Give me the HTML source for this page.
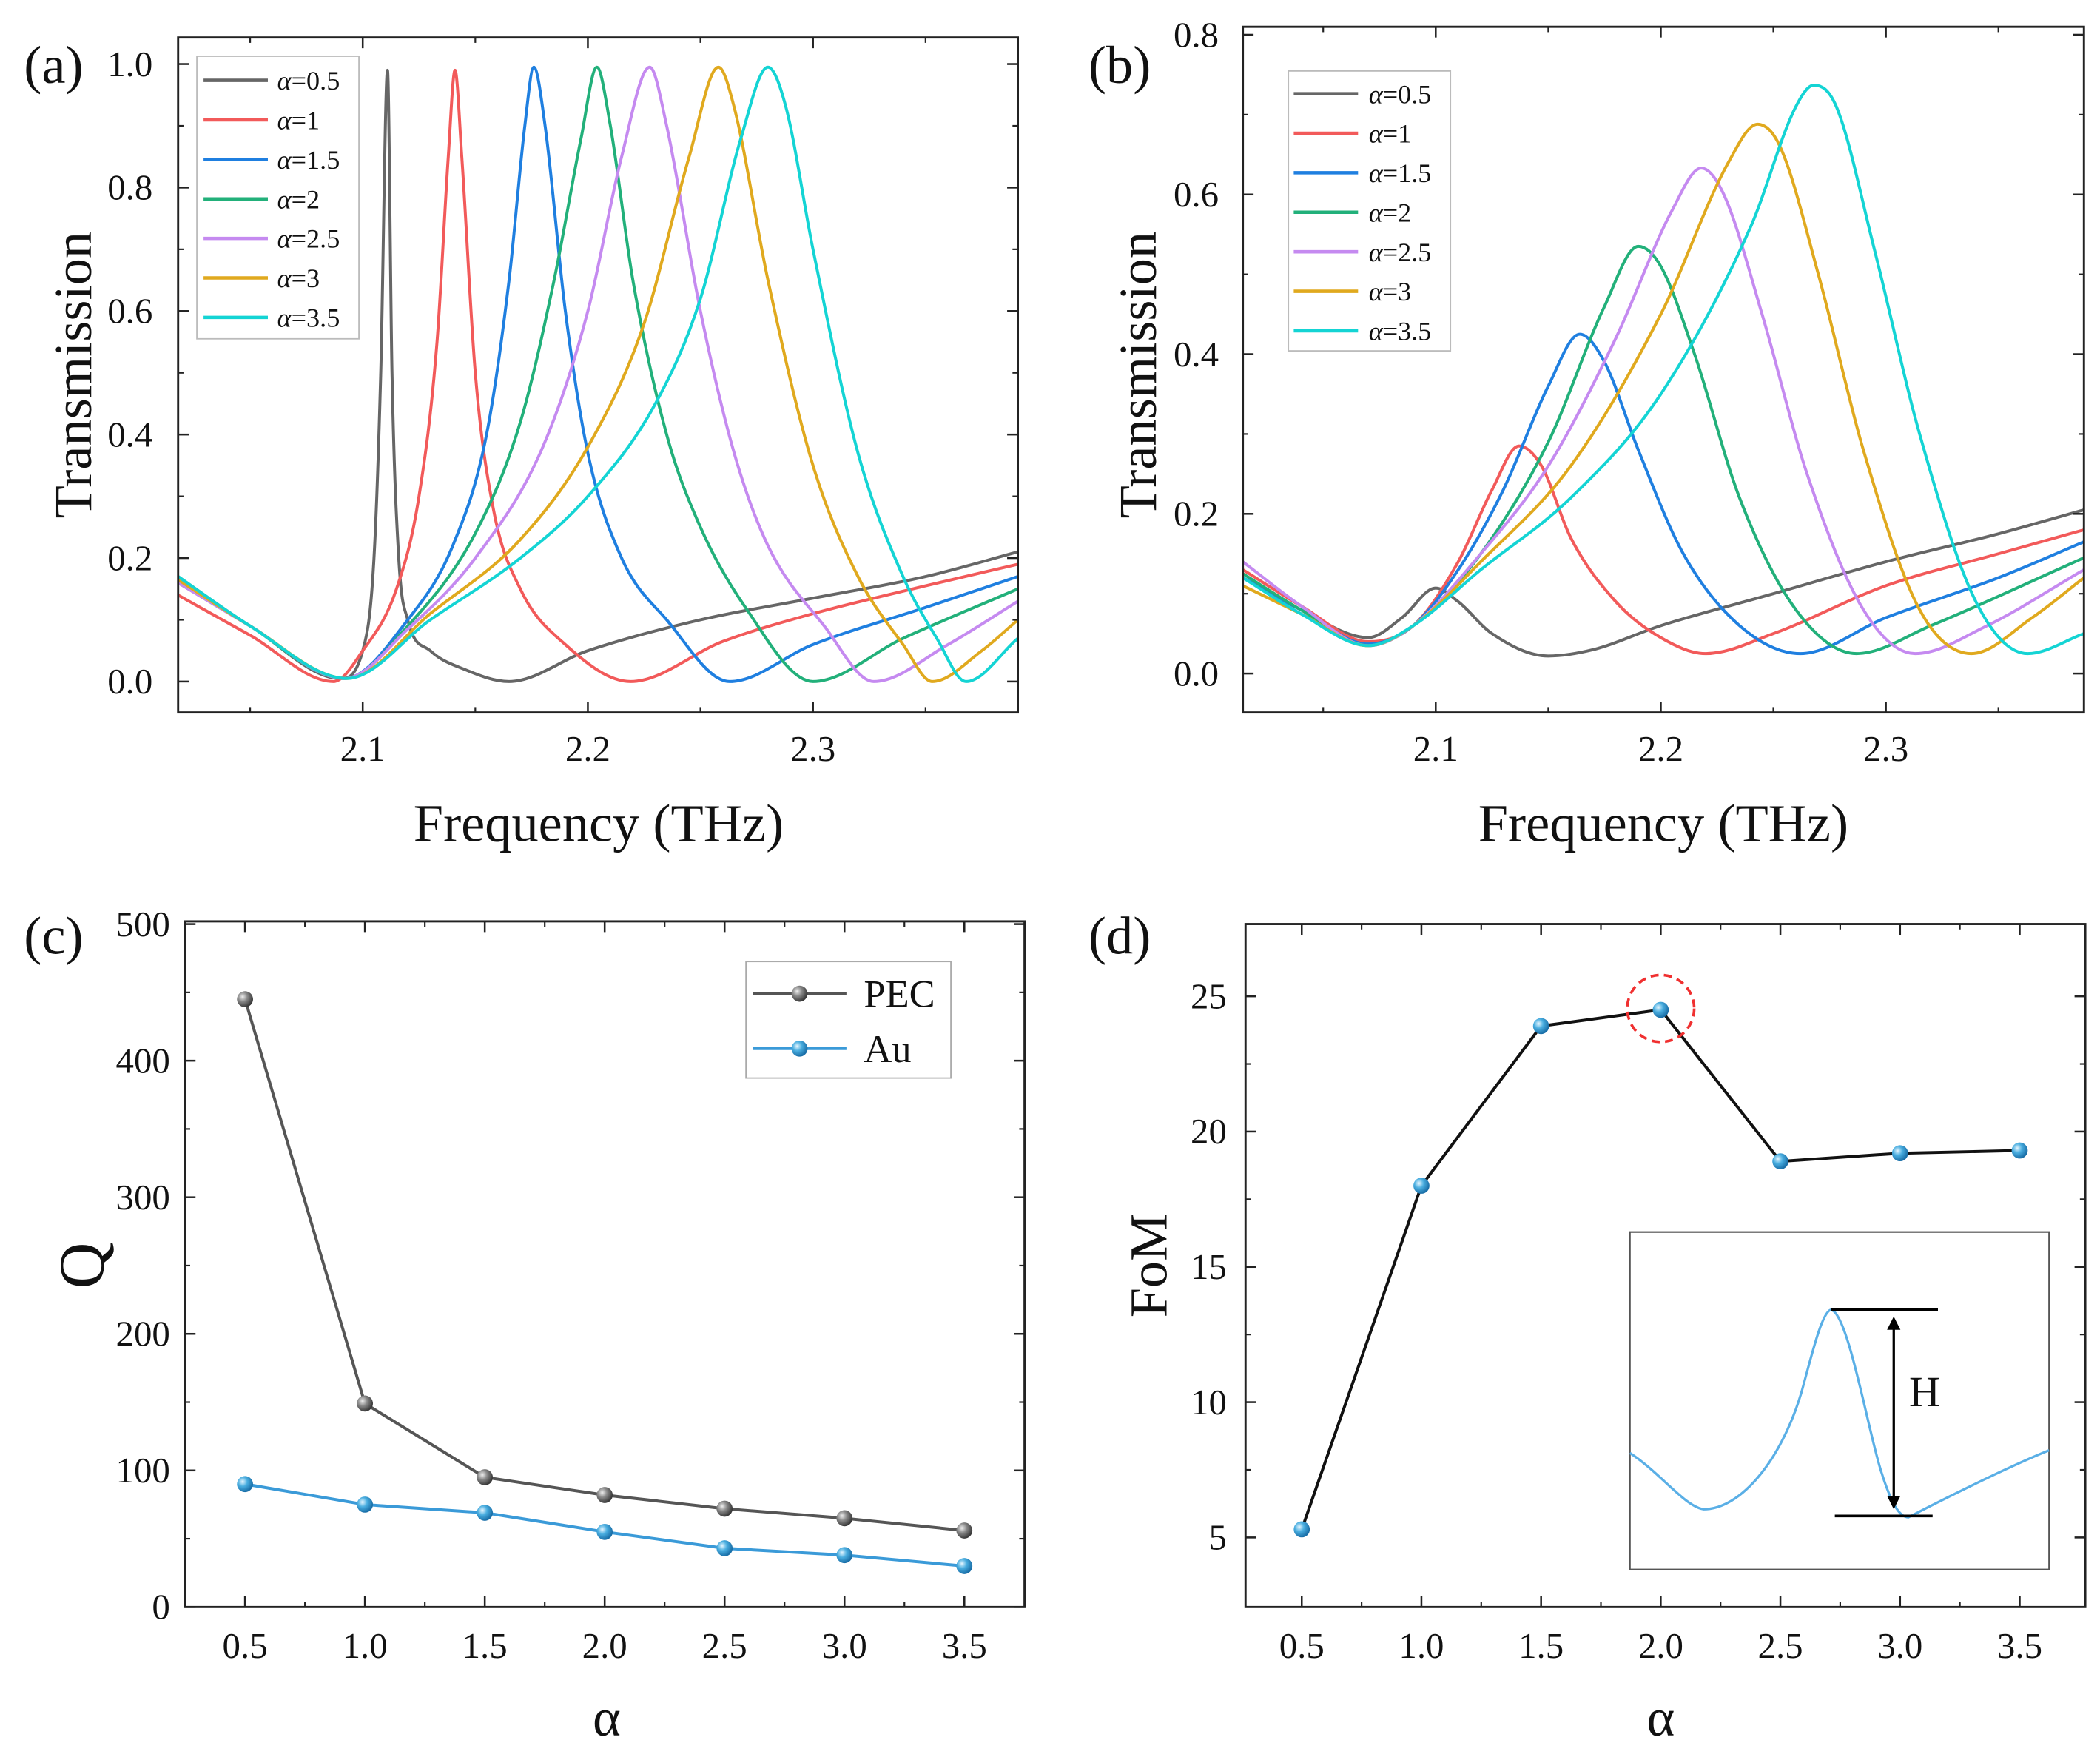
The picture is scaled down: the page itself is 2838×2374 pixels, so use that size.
<!DOCTYPE html>
<html><head><meta charset="utf-8">
<style>
html,body{margin:0;padding:0;background:#fff;}
svg{display:block;font-family:"Liberation Serif",serif;}
</style></head>
<body>
<svg id="fig" width="2838" height="2374" viewBox="0 0 1568 1312" preserveAspectRatio="none" xmlns="http://www.w3.org/2000/svg">
<defs>
<radialGradient id="gBlue" cx="35%" cy="35%" r="65%"><stop offset="0" stop-color="#e6f6ff"/><stop offset="0.45" stop-color="#4aaee0"/><stop offset="1" stop-color="#1a6fa8"/></radialGradient>
<radialGradient id="gGray" cx="35%" cy="35%" r="65%"><stop offset="0" stop-color="#eeeeee"/><stop offset="0.45" stop-color="#8a8a8a"/><stop offset="1" stop-color="#3a3a3a"/></radialGradient>
<marker id="arrH" markerWidth="10" markerHeight="10" refX="5" refY="5" orient="auto-start-reverse" markerUnits="userSpaceOnUse"><path d="M0,0 L10,5 L0,10 Z" fill="#000"/></marker>
</defs>
</svg>
<script>
// ---------- DATA ----------
const seriesLabels = ["α=0.5","α=1","α=1.5","α=2","α=2.5","α=3","α=3.5"];
const seriesColors = ["#666666","#f25a5a","#1f7fe0","#22b07a","#c58af0","#e0a91e","#14d4d4"];
// panel (a) frequencies / transmissions
const aF0=[2.018,2.05,2.09,2.1,2.105,2.108,2.111,2.113,2.116,2.12,2.13,2.145,2.165,2.2,2.25,2.3,2.35,2.391];
const aT0=[0.16,0.09,0.005,0.05,0.2,0.5,0.99,0.5,0.2,0.1,0.05,0.02,0.0,0.05,0.1,0.135,0.17,0.21];
const aF1=[2.018,2.05,2.087,2.1,2.115,2.125,2.133,2.138,2.141,2.144,2.15,2.158,2.17,2.19,2.219,2.26,2.3,2.35,2.391];
const aT1=[0.14,0.075,0.0,0.05,0.15,0.3,0.55,0.85,0.99,0.85,0.5,0.28,0.15,0.06,0.0,0.065,0.11,0.155,0.19];
const aF2=[2.018,2.05,2.092,2.12,2.14,2.155,2.165,2.172,2.176,2.181,2.19,2.2,2.215,2.235,2.263,2.3,2.35,2.391];
const aT2=[0.165,0.09,0.005,0.1,0.22,0.4,0.65,0.9,0.995,0.9,0.6,0.37,0.2,0.1,0.0,0.06,0.12,0.17];
const aF3=[2.018,2.05,2.092,2.12,2.15,2.17,2.185,2.197,2.204,2.21,2.22,2.235,2.25,2.27,2.3,2.34,2.391];
const aT3=[0.17,0.09,0.005,0.09,0.24,0.42,0.65,0.88,0.995,0.9,0.65,0.4,0.25,0.12,0.0,0.07,0.15];
const aF4=[2.018,2.05,2.092,2.12,2.15,2.18,2.2,2.215,2.2275,2.235,2.25,2.265,2.28,2.305,2.327,2.36,2.391];
const aT4=[0.16,0.09,0.005,0.085,0.2,0.38,0.6,0.85,0.995,0.9,0.6,0.37,0.22,0.09,0.0,0.06,0.13];
const aF5=[2.018,2.05,2.093,2.13,2.17,2.2,2.225,2.245,2.258,2.265,2.28,2.3,2.32,2.34,2.353,2.375,2.391];
const aT5=[0.165,0.09,0.005,0.11,0.23,0.38,0.58,0.85,0.995,0.93,0.65,0.35,0.17,0.06,0.0,0.05,0.1];
const aF6=[2.018,2.05,2.093,2.13,2.17,2.2,2.23,2.25,2.268,2.28,2.288,2.3,2.32,2.34,2.355,2.368,2.391];
const aT6=[0.17,0.09,0.005,0.1,0.2,0.3,0.45,0.62,0.88,0.995,0.93,0.7,0.37,0.17,0.07,0.0,0.07];
// panel (b)
const bF0=[2.0143,2.04,2.07,2.085,2.1,2.11,2.125,2.15,2.17,2.2,2.25,2.3,2.35,2.388];
const bT0=[0.12,0.08,0.045,0.07,0.107,0.09,0.05,0.022,0.03,0.06,0.1,0.14,0.175,0.205];
const bF1=[2.0143,2.04,2.07,2.09,2.11,2.125,2.137,2.147,2.16,2.18,2.2,2.22,2.25,2.3,2.35,2.388];
const bT1=[0.13,0.085,0.04,0.06,0.14,0.23,0.285,0.26,0.17,0.09,0.045,0.025,0.05,0.11,0.15,0.18];
const bF2=[2.0143,2.04,2.07,2.09,2.11,2.13,2.15,2.164,2.175,2.19,2.21,2.235,2.262,2.3,2.35,2.388];
const bT2=[0.12,0.08,0.037,0.06,0.13,0.23,0.36,0.425,0.39,0.28,0.15,0.06,0.025,0.07,0.12,0.165];
const bF3=[2.0143,2.04,2.07,2.09,2.12,2.15,2.175,2.19,2.2,2.215,2.235,2.26,2.287,2.32,2.388];
const bT3=[0.125,0.08,0.035,0.06,0.15,0.29,0.46,0.535,0.51,0.4,0.22,0.08,0.025,0.06,0.145];
const bF4=[2.0143,2.04,2.07,2.09,2.12,2.15,2.18,2.205,2.218,2.228,2.245,2.265,2.29,2.313,2.345,2.388];
const bT4=[0.14,0.085,0.035,0.06,0.15,0.26,0.42,0.58,0.633,0.6,0.45,0.25,0.08,0.025,0.06,0.13];
const bF5=[2.0143,2.04,2.07,2.09,2.12,2.16,2.2,2.23,2.243,2.253,2.27,2.29,2.315,2.338,2.365,2.388];
const bT5=[0.11,0.075,0.035,0.06,0.14,0.26,0.45,0.64,0.688,0.66,0.5,0.28,0.08,0.025,0.07,0.12];
const bF6=[2.0143,2.04,2.07,2.09,2.12,2.16,2.2,2.24,2.26,2.268,2.278,2.295,2.315,2.34,2.363,2.388];
const bT6=[0.12,0.075,0.035,0.06,0.13,0.22,0.35,0.56,0.71,0.737,0.71,0.53,0.3,0.09,0.025,0.05];
// panel (c)
const alphaCats=[0.5,1.0,1.5,2.0,2.5,3.0,3.5];
const qPEC=[445,149,95,82,72,65,56];
const qAu=[90,75,69,55,43,38,30];
// panel (d)
const fom=[5.3,18,23.9,24.5,18.9,19.2,19.3];
// tick labels
const aXTicks=["2.1","2.2","2.3"];
const aYTicks=["0.0","0.2","0.4","0.6","0.8","1.0"];
const bYTicks=["0.0","0.2","0.4","0.6","0.8"];
const cYTicks=["0","100","200","300","400","500"];
const dYTicks=["5","10","15","20","25"];
const alphaTicks=["0.5","1.0","1.5","2.0","2.5","3.0","3.5"];

// ---------- HELPERS ----------
const svg=document.getElementById('fig');
const NS="http://www.w3.org/2000/svg";
function mk(tag,attrs,parent){const e=document.createElementNS(NS,tag);for(const k in attrs)e.setAttribute(k,attrs[k]);(parent||svg).appendChild(e);return e;}
function txt(s,x,y,size,parent,anchor,extra){const t=mk('text',Object.assign({x:x,y:y,'font-size':size,'text-anchor':anchor||'middle',fill:'#111'},extra||{}),parent);t.textContent=s;return t;}
function scale(d0,d1,r0,r1){return v=>r0+(v-d0)/(d1-d0)*(r1-r0);}

function axesBox(g,b,X,Y,xMaj,xMin,yMaj,yMin){
  mk('rect',{x:b.x0,y:b.y0,width:b.x1-b.x0,height:b.y1-b.y0,fill:'none',stroke:'#222','stroke-width':1.6},g);
  xMaj.forEach(v=>{const x=X(v);mk('line',{x1:x,y1:b.y1,x2:x,y2:b.y1-8,stroke:'#222','stroke-width':1.4},g);mk('line',{x1:x,y1:b.y0,x2:x,y2:b.y0+8,stroke:'#222','stroke-width':1.4},g);});
  xMin.forEach(v=>{const x=X(v);mk('line',{x1:x,y1:b.y1,x2:x,y2:b.y1-4,stroke:'#222','stroke-width':1.2},g);mk('line',{x1:x,y1:b.y0,x2:x,y2:b.y0+4,stroke:'#222','stroke-width':1.2},g);});
  yMaj.forEach(v=>{const y=Y(v);mk('line',{x1:b.x0,y1:y,x2:b.x0+8,y2:y,stroke:'#222','stroke-width':1.4},g);mk('line',{x1:b.x1,y1:y,x2:b.x1-8,y2:y,stroke:'#222','stroke-width':1.4},g);});
  yMin.forEach(v=>{const y=Y(v);mk('line',{x1:b.x0,y1:y,x2:b.x0+4,y2:y,stroke:'#222','stroke-width':1.2},g);mk('line',{x1:b.x1,y1:y,x2:b.x1-4,y2:y,stroke:'#222','stroke-width':1.2},g);});
}
function pathFrom(xs,ys,X,Y){return xs.map((v,i)=>(i?'L':'M')+X(v).toFixed(2)+','+Y(ys[i]).toFixed(2)).join(' ');}
// monotone cubic (Fritsch-Carlson) smooth path through data points
function smoothPath(xs,ys,X,Y){
  const px=xs.map(X), py=ys.map(Y), n=px.length;
  const d=[],m=[];
  for(let i=0;i<n-1;i++)d.push((py[i+1]-py[i])/(px[i+1]-px[i]));
  m[0]=d[0];m[n-1]=d[n-2];
  for(let i=1;i<n-1;i++){m[i]=(d[i-1]*d[i]<=0)?0:(d[i-1]+d[i])/2;}
  for(let i=0;i<n-1;i++){if(d[i]===0){m[i]=0;m[i+1]=0;continue;}
    const a=m[i]/d[i],b=m[i+1]/d[i],s=a*a+b*b;if(s>9){const t=3/Math.sqrt(s);m[i]=t*a*d[i];m[i+1]=t*b*d[i];}}
  let p='M'+px[0].toFixed(2)+','+py[0].toFixed(2);
  for(let i=0;i<n-1;i++){const h=(px[i+1]-px[i])/3;
    p+=' C'+(px[i]+h).toFixed(2)+','+(py[i]+m[i]*h).toFixed(2)+' '+(px[i+1]-h).toFixed(2)+','+(py[i+1]-m[i+1]*h).toFixed(2)+' '+px[i+1].toFixed(2)+','+py[i+1].toFixed(2);}
  return p;
}

// ---------- PANEL A ----------
(function(){
  const g=mk('g',{});
  
  
  const b={x0:133,x1:760,y0:28,y1:532};
  const X=scale(2.018,2.391,b.x0,b.x1), Y=scale(-0.05,1.043,b.y1,b.y0);
  const clip=mk('clipPath',{id:'clipA'},g);mk('rect',{x:b.x0,y:b.y0,width:b.x1-b.x0,height:b.y1-b.y0},clip);
  const Fs=[aF0,aF1,aF2,aF3,aF4,aF5,aF6], Ts=[aT0,aT1,aT2,aT3,aT4,aT5,aT6];
  Fs.forEach((f,i)=>{const p=mk('path',{d:smoothPath(f,Ts[i],X,Y),fill:'none',stroke:seriesColors[i],'stroke-width':2.2,'stroke-linejoin':'round','clip-path':'url(#clipA)'},g);
    
    });
  axesBox(g,b,X,Y,[2.1,2.2,2.3],[2.05,2.15,2.25,2.35],[0,0.2,0.4,0.6,0.8,1.0],[0.1,0.3,0.5,0.7,0.9]);
  aXTicks.forEach(s=>txt(s,X(+s),568,27,g));
  aYTicks.forEach(s=>txt(s,114,Y(+s)+9,27,g,'end'));
  const t1=txt('Transmission',0,0,40,g,'middle',{transform:'translate(68,280) rotate(-90)'});
  
  
  const t2=txt('Frequency (THz)',447,628,40,g);
  
  
  txt('(a)',40,62,40,g);
  const lg=mk('g',{},g);
  
  
  mk('rect',{x:147,y:42,width:121,height:211,fill:'#fff',stroke:'#bbb','stroke-width':1},lg);
  seriesLabels.forEach((s,i)=>{const y=60+i*29.5;mk('line',{x1:152,y1:y,x2:200,y2:y,stroke:seriesColors[i],'stroke-width':2.5},lg);
    const t=mk('text',{x:207,y:y+7,'font-size':20,fill:'#111'},lg);t.innerHTML='<tspan font-style="italic">α</tspan>'+s.slice(1);});
})();

// ---------- PANEL B ----------
(function(){
  const g=mk('g',{});
  
  
  const b={x0:928,x1:1556,y0:20,y1:532};
  const X=scale(2.0143,2.388,b.x0,b.x1), Y=scale(-0.0487,0.81,b.y1,b.y0);
  const clip=mk('clipPath',{id:'clipB'},g);mk('rect',{x:b.x0,y:b.y0,width:b.x1-b.x0,height:b.y1-b.y0},clip);
  const Fs=[bF0,bF1,bF2,bF3,bF4,bF5,bF6], Ts=[bT0,bT1,bT2,bT3,bT4,bT5,bT6];
  Fs.forEach((f,i)=>{const p=mk('path',{d:smoothPath(f,Ts[i],X,Y),fill:'none',stroke:seriesColors[i],'stroke-width':2.2,'stroke-linejoin':'round','clip-path':'url(#clipB)'},g);
    
    });
  axesBox(g,b,X,Y,[2.1,2.2,2.3],[2.05,2.15,2.25,2.35],[0,0.2,0.4,0.6,0.8],[0.1,0.3,0.5,0.7]);
  aXTicks.forEach(s=>txt(s,X(+s),568,27,g));
  bYTicks.forEach(s=>txt(s,910,Y(+s)+9,27,g,'end'));
  const t1=txt('Transmission',0,0,40,g,'middle',{transform:'translate(863,280) rotate(-90)'});
  
  
  const t2=txt('Frequency (THz)',1242,628,40,g);
  
  
  txt('(b)',836,62,40,g);
  const lg=mk('g',{},g);
  
  
  mk('rect',{x:962,y:53,width:121,height:209,fill:'#fff',stroke:'#bbb','stroke-width':1},lg);
  seriesLabels.forEach((s,i)=>{const y=70+i*29.5;mk('line',{x1:966,y1:y,x2:1014,y2:y,stroke:seriesColors[i],'stroke-width':2.5},lg);
    const t=mk('text',{x:1022,y:y+7,'font-size':20,fill:'#111'},lg);t.innerHTML='<tspan font-style="italic">α</tspan>'+s.slice(1);});
})();

// ---------- PANEL C ----------
(function(){
  const g=mk('g',{});
  
  
  const b={x0:138,x1:765,y0:688,y1:1200};
  const X=scale(0.249,3.751,b.x0,b.x1), Y=scale(0,502,b.y1,b.y0);
  axesBox(g,b,X,Y,alphaCats,[0.75,1.25,1.75,2.25,2.75,3.25],[0,100,200,300,400,500],[50,150,250,350,450]);
  alphaTicks.forEach(s=>txt(s,X(+s),1238,27,g));
  cYTicks.forEach(s=>txt(s,127,Y(+s)+9,27,g,'end'));
  txt('Q',62,960,48,g,'middle',{transform:'rotate(-90 62 945)'});
  txt('α',453,1296,40,g);
  txt('(c)',40,712,40,g);
  [[qPEC,'#555','url(#gGray)','pec'],[qAu,'#3a9ad8','url(#gBlue)','au']].forEach(([vals,col,fill,nm])=>{
    const p=mk('path',{d:pathFrom(alphaCats,vals,X,Y),fill:'none',stroke:col,'stroke-width':2.2},g);
    
    
    vals.forEach((v,i)=>{const c=mk('circle',{cx:X(alphaCats[i]),cy:Y(v),r:6,fill:fill},g);
      
      });
  });
  const lg=mk('g',{},g);
  
  
  mk('rect',{x:557,y:718,width:153,height:87,fill:'#fff',stroke:'#aaa','stroke-width':1},lg);
  mk('line',{x1:562,y1:742,x2:632,y2:742,stroke:'#555','stroke-width':2.2},lg);
  mk('circle',{cx:597,cy:742,r:6,fill:'url(#gGray)'},lg);
  txt('PEC',645,752,29,lg,'start');
  mk('line',{x1:562,y1:783,x2:632,y2:783,stroke:'#3a9ad8','stroke-width':2.2},lg);
  mk('circle',{cx:597,cy:783,r:6,fill:'url(#gBlue)'},lg);
  txt('Au',645,793,29,lg,'start');
})();

// ---------- PANEL D ----------
(function(){
  const g=mk('g',{});
  
  
  const b={x0:930,x1:1557,y0:690,y1:1200};
  const X=scale(0.265,3.774,b.x0,b.x1), Y=scale(2.43,27.67,b.y1,b.y0);
  axesBox(g,b,X,Y,alphaCats,[0.75,1.25,1.75,2.25,2.75,3.25],[5,10,15,20,25],[7.5,12.5,17.5,22.5]);
  alphaTicks.forEach(s=>txt(s,X(+s),1238,27,g));
  dYTicks.forEach(s=>txt(s,916,Y(+s)+9,27,g,'end'));
  const t1=txt('FoM',0,0,40,g,'middle',{transform:'translate(871,945) rotate(-90)'});
  
  
  txt('α',1240,1296,40,g);
  txt('(d)',836,712,40,g);
  // inset
  const ins=mk('g',{},g);
  
  
  mk('rect',{x:1217,y:920,width:313,height:252,fill:'#fff',stroke:'#555','stroke-width':1.2},ins);
  mk('path',{d:'M1217,1085 C1240,1100 1258,1125 1272,1127 C1300,1127 1330,1090 1345,1040 C1352,1015 1360,980 1367,978 C1380,980 1395,1070 1405,1100 C1412,1122 1418,1133 1425,1133 C1450,1120 1500,1095 1530,1083',fill:'none',stroke:'#5aafe6','stroke-width':1.8},ins);
  mk('line',{x1:1367,y1:978,x2:1447,y2:978,stroke:'#000','stroke-width':2},ins);
  mk('line',{x1:1370,y1:1132,x2:1443,y2:1132,stroke:'#000','stroke-width':2},ins);
  mk('line',{x1:1414,y1:988,x2:1414,y2:1122,stroke:'#000','stroke-width':1.8,'marker-start':'url(#arrH)','marker-end':'url(#arrH)'},ins);
  txt('H',1437,1050,32,ins);
  const p=mk('path',{d:pathFrom(alphaCats,fom,X,Y),fill:'none',stroke:'#111','stroke-width':2.2},g);
  
  
  fom.forEach((v,i)=>{const c=mk('circle',{cx:X(alphaCats[i]),cy:Y(v),r:6,fill:'url(#gBlue)'},g);
    
    });
  const hi=fom.indexOf(Math.max(...fom));
  const ring=mk('circle',{cx:X(alphaCats[hi]),cy:Y(fom[hi])-1,r:25,fill:'none',stroke:'#f03030','stroke-width':2,'stroke-dasharray':'6,4'},g);
  
  
})();
</script>
</body></html>
